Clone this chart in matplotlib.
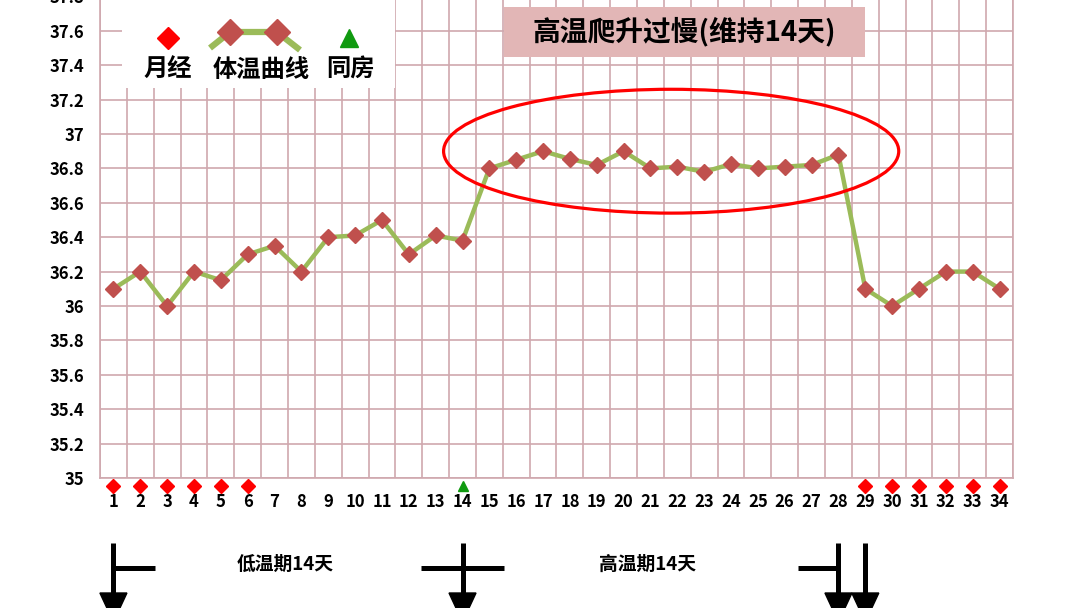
import matplotlib
matplotlib.use("Agg")
import matplotlib.pyplot as plt
import matplotlib.transforms as mtransforms
from matplotlib.patches import Rectangle, Ellipse, Polygon
from matplotlib.lines import Line2D
import numpy as np

plt.rcParams['font.family'] = ['Noto Sans CJK SC', 'DejaVu Sans']
plt.rcParams['font.weight'] = 'bold'

# chart data
days = list(range(1, 35))
temps = [36.10, 36.20, 36.00, 36.20, 36.15, 36.30, 36.35, 36.20, 36.40, 36.41,
         36.50, 36.30, 36.41, 36.38, 36.80, 36.85, 36.90, 36.855, 36.82, 36.90,
         36.80, 36.81, 36.78, 36.825, 36.80, 36.81, 36.82, 36.88, 36.10, 36.00,
         36.10, 36.20, 36.20, 36.10]
period_days = [1, 2, 3, 4, 5, 6, 29, 30, 31, 32, 33, 34]
sex_days = [14]
y_ticks = [35, 35.2, 35.4, 35.6, 35.8, 36, 36.2, 36.4, 36.6, 36.8, 37, 37.2, 37.4, 37.6, 37.8]
y_labels = ["35", "35.2", "35.4", "35.6", "35.8", "36", "36.2", "36.4", "36.6", "36.8",
            "37", "37.2", "37.4", "37.6", "37.8"]
title_text = "高温爬升过慢(维持14天)"
legend_labels = ["月经", "体温曲线", "同房"]
phase_labels = ["低温期14天", "高温期14天"]

W, H = 1080, 608
LINE_C = "#9bbb59"
MARK_C = "#c0504d"
GRID_C = "#cfa8ae"

fig = plt.figure(figsize=(W / 100, H / 100), dpi=100)
fig.patch.set_facecolor("white")
ax = fig.add_axes([100 / W, 1 - 478 / H, 913 / W, 481.6 / H])


def P(x, y):
    # pixel position -> figure fraction
    return x / W, 1 - y / H


ax.set_xlim(0.5, 34.5)
ax.set_ylim(35, 37.8)

ax.plot(days, temps, color=LINE_C, lw=3.2, marker="D", ms=8.5,
        markerfacecolor=MARK_C, markeredgecolor=MARK_C, zorder=4)

# markers under the axis
ax.plot(period_days, [34.955] * len(period_days), ls="none", marker="D", ms=7,
        color="#ff0000", clip_on=False, zorder=5)
ax.plot(sex_days, [34.955] * len(sex_days), ls="none", marker="^", ms=7,
        color="#109a10", clip_on=False, zorder=5)

# grid between categories
ax.set_xticks(days)
ax.set_xticklabels([str(d) for d in days], fontsize=12, fontweight="bold")
ax.set_xticks(np.arange(0.5, 35, 1), minor=True)
ax.set_yticks(y_ticks)
ax.set_yticklabels(y_labels, fontsize=12, fontweight="bold")
ax.tick_params(axis="x", which="major", length=0, pad=11)
ax.tick_params(axis="x", which="minor", length=0)
ax.tick_params(axis="y", length=0, pad=11)
ax.grid(True, axis="x", which="minor", color=GRID_C, lw=1.2)
ax.grid(True, axis="y", which="major", color=GRID_C, lw=1.2)
for s in ax.spines.values():
    s.set_color(GRID_C)
    s.set_linewidth(1.2)
ax.spines["top"].set_visible(False)

# ellipse around the high-temperature phase
ax.add_patch(Ellipse((21.77, 36.90), 16.95, 0.72, fill=False, edgecolor="#ff0000",
                     lw=2.3, zorder=6))

# title box
fT = fig.transFigure
ax.add_patch(Rectangle(P(504, 57), 361 / W, 50 / H, transform=fT, facecolor="#e2b6b6",
                       edgecolor="none", clip_on=False, zorder=7))
ax.text(*P(684, 32), title_text, transform=fT, ha="center", va="center",
        fontsize=20, fontweight="bold", zorder=8)

# legend box
ax.add_patch(Rectangle(P(122, 88), 273 / W, 92 / H, transform=fT, facecolor="white",
                       edgecolor="none", clip_on=False, zorder=7))
ax.add_line(Line2D([P(168, 38)[0]], [P(168, 38)[1]], transform=fT, ls="none",
                   marker="D", ms=11, color="#ff0000", zorder=8))
lx = [210, 230, 277, 300]
ly = [48, 32, 32, 50]
ax.add_line(Line2D([x / W for x in lx], [1 - y / H for y in ly], transform=fT,
                   color=LINE_C, lw=4.5, zorder=8, solid_capstyle="butt"))
ax.add_line(Line2D([230 / W, 277 / W], [1 - 32 / H] * 2, transform=fT, ls="none",
                   marker="D", ms=13, color=MARK_C, zorder=9))
ax.add_line(Line2D([349 / W], [1 - 38 / H], transform=fT, ls="none",
                   marker="^", ms=13, color="#109a10", zorder=8))
for lbl, x in zip(legend_labels, [168, 261, 350]):
    ax.text(*P(x, 70), lbl, transform=fT, ha="center", va="center",
            fontsize=17.5, fontweight="bold", zorder=8)

# phase arrows below the chart (x in data, y in figure)
bt = mtransforms.blended_transform_factory(ax.transData, fT)
lw_px = 5 / 100 * 72


def down_arrow(day):
    ax.add_line(Line2D([day, day], [1 - 543 / H, 1 - 598 / H], transform=bt,
                       color="black", lw=lw_px, clip_on=False, solid_capstyle="butt"))
    hw = 13.5 / 26.85
    ax.add_patch(Polygon([(day - hw, 1 - 593 / H), (day + hw, 1 - 593 / H),
                          (day, 1 - 622 / H)], transform=bt, color="black",
                         clip_on=False))


def hbar(d0, d1):
    ax.add_line(Line2D([d0, d1], [1 - 568 / H] * 2, transform=bt, color="black",
                       lw=lw_px, clip_on=False, solid_capstyle="butt"))


for d in [1, 14, 28, 29]:
    down_arrow(d)
hbar(1, 2.55)
hbar(12.46, 15.55)
hbar(26.5, 28)

ax.text(*P(285, 564), phase_labels[0], transform=fT, ha="center", va="center",
        fontsize=13.5, fontweight="bold")
ax.text(*P(648, 564), phase_labels[1], transform=fT, ha="center", va="center",
        fontsize=13.5, fontweight="bold")

fig.savefig("out.png", dpi=100)
